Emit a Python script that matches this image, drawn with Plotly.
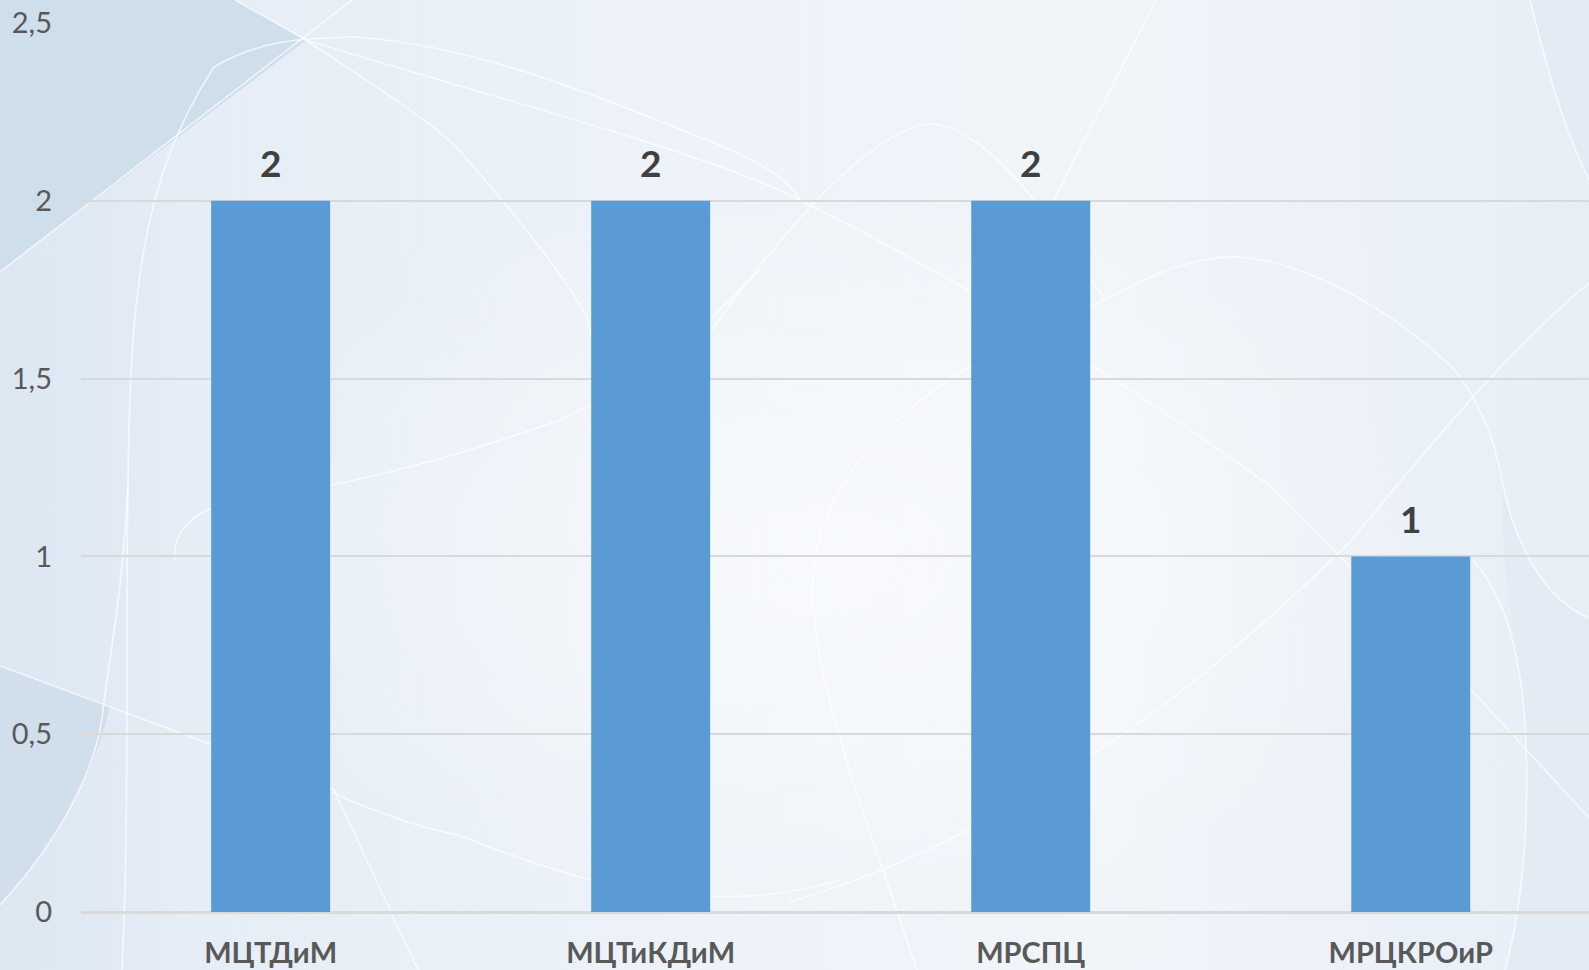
import base64
import plotly.graph_objects as go

# ---- data ----
categories = ["МЦТДиМ", "МЦТиКДиМ", "МРСПЦ", "МРЦКРОиР"]
values = [2, 2, 2, 1]
y_tick_vals = [0, 0.5, 1, 1.5, 2, 2.5]
y_tick_text = ["0", "0,5", "1", "1,5", "2", "2,5"]

W, H = 1589, 970
ML, MR, MT, MB = 81, 0, 23, 58
PW, PH = W - ML - MR, H - MT - MB

# ---- decorative background (pixel space SVG) ----
svg = f'''<svg xmlns="http://www.w3.org/2000/svg" width="{W}" height="{H}" viewBox="0 0 {W} {H}" preserveAspectRatio="none">
<defs>
<linearGradient id="g" x1="0" y1="0" x2="1" y2="0">
<stop offset="0" stop-color="#DCE7F2"/>
<stop offset="0.12" stop-color="#E5EDF6"/>
<stop offset="0.45" stop-color="#EEF3F9"/>
<stop offset="0.7" stop-color="#F1F5FA"/>
<stop offset="1" stop-color="#E7EEF6"/>
</linearGradient>
<radialGradient id="r" cx="0.5" cy="0.5" r="0.5">
<stop offset="0" stop-color="#FFFFFF" stop-opacity="0.55"/>
<stop offset="1" stop-color="#FFFFFF" stop-opacity="0"/>
</radialGradient>
</defs>
<rect x="0" y="0" width="{W}" height="{H}" fill="url(#g)"/>
<ellipse cx="820" cy="560" rx="620" ry="380" fill="url(#r)"/>
<path d="M0,0 L235,0 L306,40 L0,272 Z" fill="#CEDEEB"/>
<path d="M0,666 L110,706 C95,770 60,840 0,905 Z" fill="#D1DFEC"/>
<path d="M1503,485 C1515,545 1545,600 1589,618 L1589,970 L1505,970 C1530,880 1530,760 1522,690 C1512,620 1500,560 1503,485 Z" fill="#E3EBF4"/>
<path d="M1589,0 L1589,180 C1560,120 1545,60 1530,0 Z" fill="#E3EBF4"/>
<g fill="none" stroke="#FFFFFF" stroke-opacity="0.7" stroke-width="1.6">
<path d="M0,272 L352,0"/>
<path d="M235,0 L306,40 C500,100 700,150 800,200 C1000,300 1150,400 1269,485 L1467,685 L1589,818"/>
<path d="M122,970 C130,800 125,650 128,485 C130,300 140,180 214,67 C260,40 300,38 357,37 C460,45 560,80 689,133 C760,160 790,180 800,200"/>
<path d="M0,905 C60,840 95,770 102,718 C110,650 122,600 128,485"/>
<path d="M0,666 L334,790 L418,970"/>
<path d="M332,792 C380,815 430,830 459,835 C520,860 580,880 650,893 C720,900 780,898 840,880"/>
<path d="M176,562 C170,540 185,510 240,500 C320,490 420,470 560,420 C650,380 700,330 760,270"/>
<path d="M306,40 C380,90 430,120 459,150 C520,220 560,270 587,317 C600,370 610,430 612,485"/>
<path d="M650,425 C750,260 880,110 940,125 C1000,140 1050,220 1105,300"/>
<path d="M1105,300 C1160,270 1200,255 1240,257 C1300,262 1380,300 1452,367 C1480,400 1495,440 1503,485 C1515,545 1545,600 1589,618"/>
<path d="M1473,560 C1495,585 1512,620 1522,690 C1530,760 1530,880 1505,970"/>
<path d="M1156,0 L1054,200"/>
<path d="M1530,0 C1545,60 1560,120 1589,180"/>
<path d="M1589,283 C1520,340 1450,420 1350,542 C1250,640 1150,720 1095,752 C1000,820 900,870 789,902"/>
<path d="M917,970 C860,800 800,650 815,560 C830,450 950,360 1105,300"/>
</g>
</svg>'''
src = "data:image/svg+xml;base64," + base64.b64encode(svg.encode("utf-8")).decode("ascii")

fig = go.Figure()
fig.add_trace(go.Bar(
    x=categories, y=values,
    marker=dict(color="#5B9BD5", line=dict(width=0)),
    width=0.313,
    hoverinfo="skip",
))

annotations = []
for c, v in zip(categories, values):
    annotations.append(dict(
        x=c, y=v, xref="x", yref="y", text=f"<b>{v}</b>", showarrow=False,
        yanchor="middle", yshift=38,
        font=dict(family="Lato, 'Open Sans', sans-serif", size=37, color="#404040"),
    ))

fig.update_layout(
    width=W, height=H,
    margin=dict(l=ML, r=MR, t=MT, b=MB, pad=0),
    paper_bgcolor="#E8EFF7",
    plot_bgcolor="rgba(0,0,0,0)",
    showlegend=False,
    annotations=annotations,
    images=[dict(
        source=src, xref="paper", yref="paper",
        x=-ML / PW, y=1 + MT / PH, sizex=W / PW, sizey=H / PH,
        xanchor="left", yanchor="top", sizing="stretch", layer="below",
    )],
    xaxis=dict(
        range=[-0.499, 3.469],
        showgrid=False, zeroline=False,
        showline=True, linecolor="#D9D9D9", linewidth=2,
        ticks="", ticklabelstandoff=14,
        tickfont=dict(family="Lato, 'Open Sans', sans-serif", size=29, color="#595959", weight="bold"),
        fixedrange=True,
    ),
    yaxis=dict(
        range=[0, 2.5],
        tickvals=y_tick_vals, ticktext=y_tick_text,
        showgrid=True, gridcolor="#D9D9D9", gridwidth=2,
        zeroline=True, zerolinecolor="#D9D9D9", zerolinewidth=2,
        showline=False, ticks="", ticklabelstandoff=28,
        tickfont=dict(family="Lato, 'Open Sans', sans-serif", size=29, color="#595959"),
        fixedrange=True,
    ),
)

fig.write_html(
    "out.html",
    config={"displayModeBar": False},
    post_script="document.body.style.margin='0';document.body.style.padding='0';document.body.style.overflow='hidden';",
)
